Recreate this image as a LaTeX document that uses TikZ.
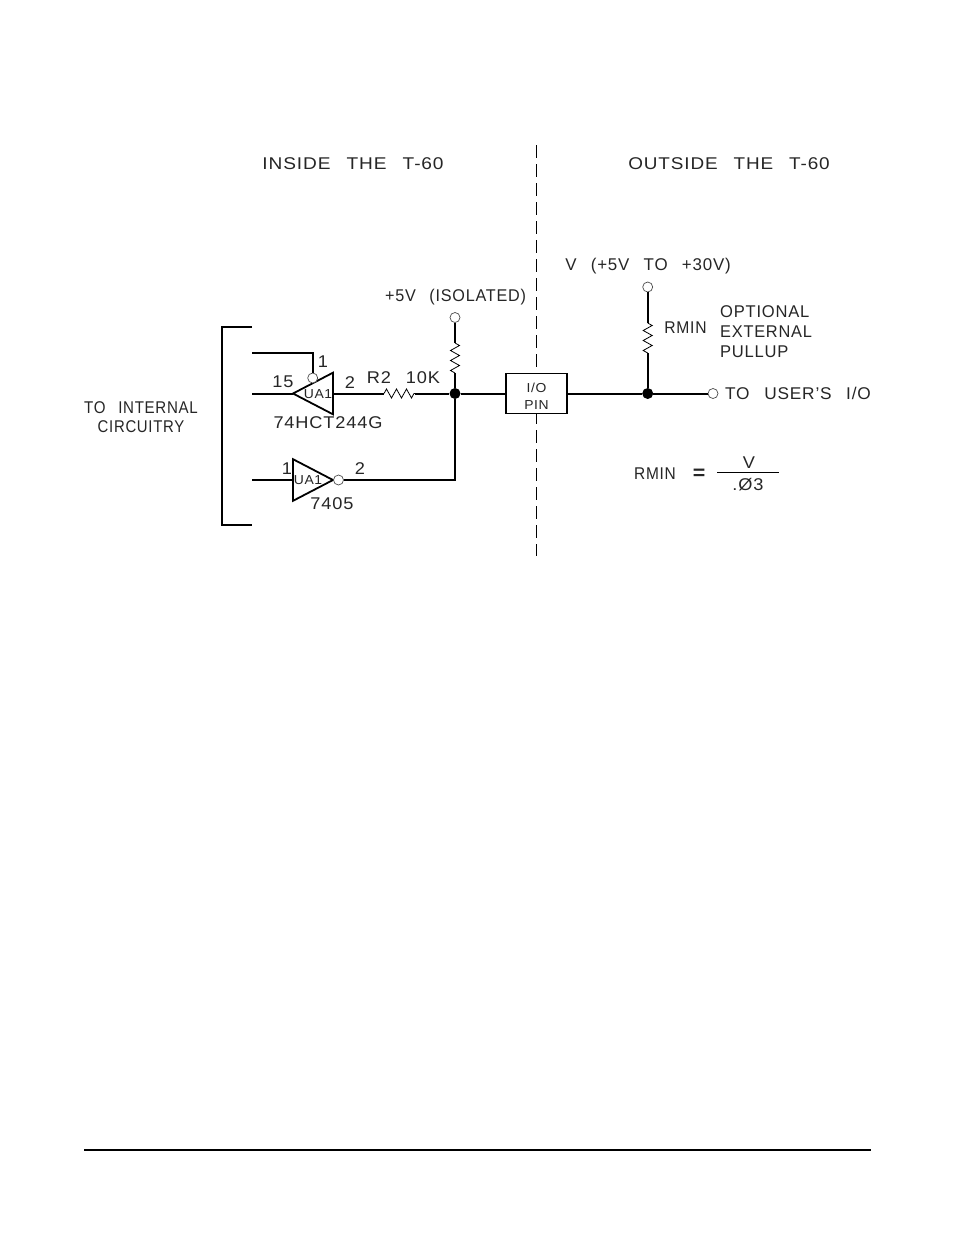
\documentclass[tikz,border=0pt]{standalone}
\usepackage{fontspec}
\setmainfont{Liberation Sans}[LetterSpace=5, FakeStretch=1.07, WordSpace=2.6]
\usetikzlibrary{shapes.geometric,decorations.pathmorphing}
\tikzset{
    lbl/.style={inner sep=0pt, text=black!85, font=\fontsize{17}{17}\selectfont},
    small/.style={lbl, font=\fontsize{13}{13}\selectfont},
    narrow/.style={transform shape, xscale=#1},
    wire/.style={line width=2pt},
    thin wire/.style={line width=1.2pt},
    term/.style={circle, draw=black!70, line width=.7pt, fill=white, minimum size=10pt, inner sep=0pt},
    junction/.style={circle, fill=black, minimum size=11pt, inner sep=0pt},
    buffer/.style={isosceles triangle, draw, line width=1.8pt, isosceles triangle apex angle=55,
        minimum height=40pt, inner sep=0pt, outer sep=0pt, anchor=apex},
    res/.style={line width=.8pt, decorate, decoration={zigzag, segment length=10pt, amplitude=4.5pt}},
}
\begin{document}
\begin{tikzpicture}[x=1pt, y=-1pt]
    \useasboundingbox[fill=white] (0,0) rectangle (954,1235);
    % headings and divider
    \node[lbl, narrow=1.05] (inside) at (353,164) {INSIDE THE T-60};
    \node[lbl, narrow=1.04] (outside) at (729,164) {OUTSIDE THE T-60};
    \coordinate (divtop) at (536,145);
    \coordinate (divbot) at (536,556);
    \draw[line width=1pt, dash pattern=on 13pt off 6pt] (divtop) -- (divbot);
    % bracket
    \coordinate (brtop) at (252,327);
    \coordinate (brbot) at (252,525);
    \draw[wire] (brtop) -- (222,327) -- (222,525) -- (brbot);
    \node[lbl, narrow=.83] (tointernal) at (141,408) {TO INTERNAL};
    \node[lbl, narrow=.82] (circuitry) at (141,427) {CIRCUITRY};
    % buffers
    \node[buffer, shape border rotate=180] (uone) at (293,393.5) {};
    \node[buffer, shape border rotate=0, anchor=lower side] (utwo) at (293,480) {};
    \node[term] (enable) at (312.7,378) {};
    \node[term] (invout) at (338.5,480) {};
    \coordinate (enin) at (252,353);
    \coordinate (uonein) at (252,393.5);
    \coordinate (utwoin) at (252,480);
    \draw[wire] (enin) -| (enable.north);
    \draw[wire] (uonein) -- (uone.apex);
    \draw[wire] (utwoin) -- (293,480);
    \node[small] (uonelbl) at (318,394) {UA1};
    \node[small] (utwolbl) at (308,480) {UA1};
    % nodes on the line
    \node[junction] (nodea) at (455,393.5) {};
    \node[junction] (nodeb) at (647.7,393.5) {};
    \node[term] (fivev) at (455,317.5) {};
    \node[term] (vtop) at (647.7,287) {};
    \node[term] (userio) at (713,393.5) {};
    \node[draw, line width=1.8pt, fill=white, minimum width=61pt, minimum height=40pt, inner sep=0pt] (iopin) at (536.5,393.5) {};
    \node[small] (iolbl) at (536.5,388) {I/O};
    \node[small] (pinlbl) at (536.5,405) {PIN};
    % resistors
    \coordinate (rtwol) at (384,393.5);
    \coordinate (rtwor) at (415,393.5);
    \coordinate (rpua) at (455,343);
    \coordinate (rpub) at (455,373);
    \coordinate (rmina) at (647.7,323);
    \coordinate (rminb) at (647.7,353);
    \draw[wire] (333,393.5) -- (rtwol);
    \draw[res] (rtwol) -- (rtwor);
    \draw[wire] (rtwor) -- (nodea);
    \draw[wire] (fivev) -- (rpua);
    \draw[res] (rpua) -- (rpub);
    \draw[thin wire] (rpub) -- (nodea);
    \draw[wire] (vtop) -- (rmina);
    \draw[res] (rmina) -- (rminb);
    \draw[wire] (rminb) -- (nodeb);
    \draw[thin wire] (invout) -| (nodea);
    \draw[wire] (nodea) -- (iopin);
    \draw[wire] (iopin) -- (nodeb);
    \draw[wire] (nodeb) -- (userio);
    % pin numbers and values
    \node[lbl] (pinone) at (323,362) {1};
    \node[lbl] (pinfifteen) at (283,382) {15};
    \node[lbl] (pintwo) at (350,383) {2};
    \node[lbl] (rtwo) at (379,378) {R2};
    \node[lbl] (rval) at (423,378) {10K};
    \node[lbl] (partone) at (328,423) {74HCT244G};
    \node[lbl] (pinoneb) at (287,469) {1};
    \node[lbl] (pintwob) at (360,469) {2};
    \node[lbl] (parttwo) at (332,504) {7405};
    % supply labels
    \node[lbl, narrow=.89] (fivelbl) at (455.5,297) {+5V (ISOLATED)};
    \node[lbl, narrow=.93] (vlbl) at (648,266) {V (+5V TO +30V)};
    \node[lbl, narrow=.86] (rminlbl) at (685.5,328) {RMIN};
    \node[lbl, narrow=.91, anchor=west] (optional) at (720,312) {OPTIONAL};
    \node[lbl, narrow=.9, anchor=west] (external) at (720,332) {EXTERNAL};
    \node[lbl, narrow=.91, anchor=west] (pullup) at (720,352) {PULLUP};
    \node[lbl, narrow=.95, anchor=west] (userlbl) at (725,393) {TO USER'S I/O};
    % formula
    \node[lbl, narrow=.85] (rminf) at (655,474) {RMIN};
    \node[lbl, font=\fontsize{20}{20}\bfseries] (eq) at (699,474) {=};
    \node[lbl] (num) at (749,463) {V};
    \node[lbl] (den) at (748,485) {.Ø3};
    \coordinate (fracl) at (717,472);
    \coordinate (fracr) at (779,472);
    \draw[line width=.8pt] (fracl) -- (fracr);
    % page rule
    \coordinate (rulel) at (84,1150);
    \coordinate (ruler) at (871,1150);
    \draw[line width=1.2pt] (rulel) -- (ruler);
\end{tikzpicture}
\end{document}
